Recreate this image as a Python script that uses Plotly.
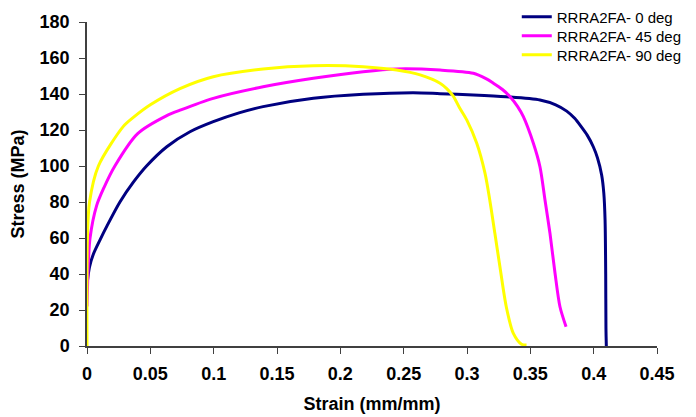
import plotly.graph_objects as go

# Strain (mm/mm) and Stress (MPa)
strain_0 = [0.0003, 0.002, 0.005, 0.0103, 0.016, 0.026, 0.0366, 0.047, 0.063, 0.0813,
            0.0997, 0.12, 0.139, 0.1787, 0.218, 0.2576, 0.2787, 0.305, 0.331, 0.3576,
            0.37, 0.3787, 0.385, 0.39, 0.395, 0.3997, 0.403, 0.4063, 0.408, 0.409,
            0.4095, 0.4097, 0.41]
stress_0 = [36, 44, 51, 59, 67, 80, 91, 100, 110.7, 119,
            124.6, 129.5, 133, 137.6, 139.8, 140.7, 140.2, 139.5, 138.5, 136.7,
            134, 130.5, 126.5, 122, 117, 110.7, 104.5, 95, 85, 70,
            40, 10, 0]

strain_45 = [0.0, 0.001, 0.0024, 0.0076, 0.0134, 0.022, 0.04, 0.063, 0.0734, 0.0997,
             0.139, 0.1787, 0.218, 0.2445, 0.2787, 0.305, 0.315, 0.3208, 0.328, 0.334,
             0.34, 0.3445, 0.3524, 0.3576, 0.3616, 0.3655, 0.3695, 0.3734, 0.3782]
stress_45 = [22, 45, 60, 78, 88, 100, 118, 128, 131, 137.6,
             144, 148.7, 152.4, 153.9, 153.3, 151.5, 148.5, 146, 142.5, 138.5,
             133, 127.4, 112.6, 99.6, 81, 62.6, 40.4, 21.8, 10.7]

strain_90 = [0.0, 0.0003, 0.002, 0.009, 0.0287, 0.0366, 0.05, 0.0734, 0.0997, 0.139,
             0.1787, 0.218, 0.2445, 0.263, 0.2787, 0.284, 0.289, 0.294, 0.2998, 0.3077,
             0.3142, 0.318, 0.322, 0.326, 0.331, 0.3366, 0.343, 0.347]
stress_90 = [0, 60, 80, 100, 122, 127, 134, 143, 149.6, 153.9,
             155.7, 155.2, 153.3, 150.6, 146, 143, 139, 132.5, 125.6, 112.6,
             96, 81, 62.6, 44, 21.8, 7, 1, 0.5]

series_names = ["RRRA2FA- 0 deg", "RRRA2FA- 45 deg", "RRRA2FA- 90 deg"]
series_colors = ["#000080", "#FF00FF", "#FFFF00"]

x_ticks = [0, 0.05, 0.1, 0.15, 0.2, 0.25, 0.3, 0.35, 0.4, 0.45]
x_ticklabels = ["0", "0.05", "0.1", "0.15", "0.2", "0.25", "0.3", "0.35", "0.4", "0.45"]
y_ticks = [0, 20, 40, 60, 80, 100, 120, 140, 160, 180]

legend_ids = ["legend", "legend2", "legend3"]
legend_rows_y = [1.0154, 0.9568, 0.8981]

fig = go.Figure()
for xs, ys, name, color, lid in zip([strain_0, strain_45, strain_90],
                                    [stress_0, stress_45, stress_90],
                                    series_names, series_colors, legend_ids):
    fig.add_trace(go.Scatter(x=xs, y=ys, mode="lines", name=name, legend=lid,
                             line=dict(color=color, width=3, shape="spline", smoothing=0.8)))

fam = "Arial, Liberation Sans, sans-serif"
axis_font = dict(family=fam, size=18, color="black")
tick_font = dict(family=fam, size=18, color="black", weight="bold")

legend_common = dict(x=0.754, xanchor="left", yanchor="middle",
                     font=dict(size=15, color="black", family=fam),
                     bgcolor="rgba(0,0,0,0)", itemwidth=30)
layout_legends = {}
for lid, ly in zip(legend_ids, legend_rows_y):
    layout_legends[lid] = dict(legend_common, y=ly)

fig.update_layout(
    width=688, height=409,
    margin=dict(l=79, r=39, t=14, b=71, autoexpand=False),
    paper_bgcolor="white", plot_bgcolor="white",
    font=dict(family=fam, color="black"),
    showlegend=True,
    xaxis=dict(range=[0, 0.45], tickvals=x_ticks, ticktext=x_ticklabels,
               showgrid=False, zeroline=False, showline=True, linecolor="#404040",
               linewidth=1.5, ticks="outside", ticklen=6, tickcolor="#404040",
               tickfont=tick_font, ticklabelstandoff=5, automargin=False,
               title=dict(text="<b>Strain (mm/mm)</b>", font=axis_font, standoff=14)),
    yaxis=dict(range=[0, 180], tickvals=y_ticks,
               showgrid=False, zeroline=False, showline=True, linecolor="#404040",
               linewidth=1.5, ticks="outside", ticklen=6, tickcolor="#404040",
               tickfont=tick_font, ticklabelstandoff=6, automargin=False,
               title=dict(text="<b>Stress (MPa)</b>", font=axis_font, standoff=15)),
    **layout_legends,
)

fig.write_html("out.html")
